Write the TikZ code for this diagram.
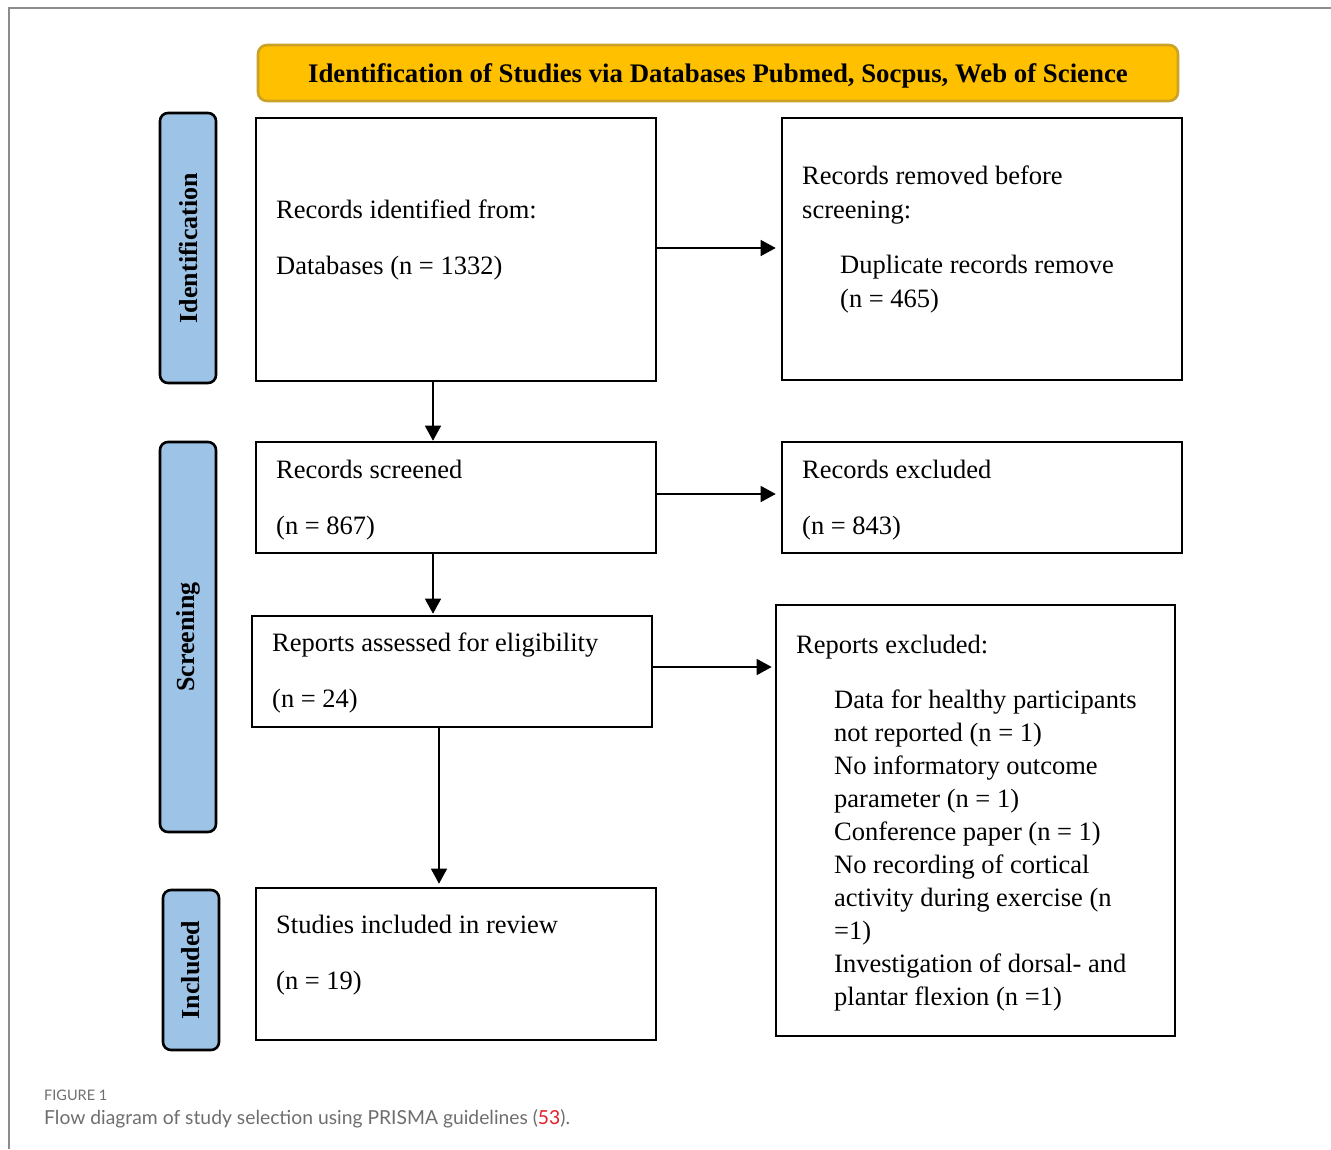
\documentclass[tikz,border=0pt]{standalone}
\usepackage{fontspec}
\setmainfont{Liberation Serif}
\newfontfamily\capfont{Lato}
\usetikzlibrary{arrows.meta}
\definecolor{titlefill}{HTML}{FFC000}
\definecolor{titleedge}{HTML}{C9A227}
\definecolor{sidefill}{HTML}{9DC3E6}
\definecolor{framegray}{HTML}{8C8C8C}
\definecolor{capgray}{HTML}{6E6E6E}
\definecolor{refred}{HTML}{E0202A}
\begin{document}
\begin{tikzpicture}[x=1pt,y=-1pt,
  pbox/.style={draw=black, line width=2.6pt, inner sep=0pt, minimum width=400pt},
  sidebox/.style={draw=black, fill=sidefill, line width=2.6pt, rounded corners=8pt, inner sep=0pt, minimum width=56pt},
  sidetxt/.style={rotate=90, font=\fontsize{26}{30}\selectfont\bfseries},
  txt/.style={anchor=base west, inner sep=0pt, font=\fontsize{26.5}{33}\selectfont},
  flow/.style={line width=1.4pt, -{Triangle[length=15pt,width=16pt]}}
]
\useasboundingbox (0,0) rectangle (1331,1149);
% frame
\draw[framegray, line width=1.2pt] (9,1149) -- (9,8) -- (1331,8);
% title
\node[draw=titleedge, fill=titlefill, line width=2.6pt, rounded corners=9pt, minimum width=920pt, minimum height=56pt, inner sep=0pt] (title) at (718,73) {};
\node[inner sep=0pt, font=\fontsize{26.8}{30}\selectfont\bfseries] (titletxt) at ([yshift=-2.5pt]title.center) {Identification of Studies via Databases Pubmed, Socpus, Web of Science};
% side labels
\node[sidebox, minimum height=270pt] (sideid) at (188,248) {};
\node[sidetxt] (sideidt) at (sideid.center) {Identification};
\node[sidebox, minimum height=390pt] (sidesc) at (188,637) {};
\node[sidetxt] (sidesct) at (sidesc.center) {Screening};
\node[sidebox, minimum height=160pt] (sidein) at (191,970) {};
\node[sidetxt] (sideint) at (sidein.center) {Included};
% boxes
\node[pbox, minimum height=263pt] (b1) at (456,249.5) {};
\node[pbox, minimum height=262pt] (b2) at (982,249) {};
\node[pbox, minimum height=111pt] (b3) at (456,497.5) {};
\node[pbox, minimum height=111pt] (b4) at (982,497.5) {};
\node[pbox, minimum height=111pt] (b5) at (452,671.5) {};
\node[pbox, minimum width=399pt, minimum height=431pt] (b6) at (975.5,820.5) {};
\node[pbox, minimum height=152pt] (b7) at (456,964) {};
% texts
\node[txt] (t1a) at (276,218) {Records identified from:};
\node[txt] (t1b) at (276,274) {Databases (n = 1332)};
\node[txt] (t2a) at (802,184) {Records removed before};
\node[txt] (t2b) at (802,218) {screening:};
\node[txt] (t2c) at (840,273) {Duplicate records remove};
\node[txt] (t2d) at (840,307) {(n = 465)};
\node[txt] (t3a) at (276,478) {Records screened};
\node[txt] (t3b) at (276,534) {(n = 867)};
\node[txt] (t4a) at (802,478) {Records excluded};
\node[txt] (t4b) at (802,534) {(n = 843)};
\node[txt] (t5a) at (272,651) {Reports assessed for eligibility};
\node[txt] (t5b) at (272,707) {(n = 24)};
\node[txt] (t6a) at (796,653) {Reports excluded:};
\node[txt] (t6b) at (834,708) {Data for healthy participants};
\node[txt] (t6c) at (834,741) {not reported (n = 1)};
\node[txt] (t6d) at (834,774) {No informatory outcome};
\node[txt] (t6e) at (834,807) {parameter (n = 1)};
\node[txt] (t6f) at (834,840) {Conference paper (n = 1)};
\node[txt] (t6g) at (834,873) {No recording of cortical};
\node[txt] (t6h) at (834,906) {activity during exercise (n};
\node[txt] (t6i) at (834,939) {=1)};
\node[txt] (t6j) at (834,972) {Investigation of dorsal- and};
\node[txt] (t6k) at (834,1005) {plantar flexion (n =1)};
\node[txt] (t7a) at (276,933) {Studies included in review};
\node[txt] (t7b) at (276,989) {(n = 19)};
% connectors
\draw[flow, shorten >=5pt] (b1.east |- 0,248) -- (b2.west |- 0,248);
\draw[flow] ([xshift=-23pt]b1.south) -- ([xshift=-23pt]b1.south |- b3.north);
\draw[flow, shorten >=5pt] (b3.east |- 0,494) -- (b4.west |- 0,494);
\draw[flow, shorten >=1pt] ([xshift=-23pt]b3.south) -- ([xshift=-23pt]b3.south |- b5.north);
\draw[flow, shorten >=3pt] (b5.east |- 0,667) -- (b6.west |- 0,667);
\draw[flow, shorten >=3pt] ([xshift=-13pt]b5.south) -- ([xshift=-13pt]b5.south |- b7.north);
% caption
\node[anchor=base west, inner sep=0pt, text=capgray, font=\capfont\fontsize{14.5}{16}\selectfont] (cap1) at (44,1100) {FIGURE 1};
\node[anchor=base west, inner sep=0pt, text=capgray, font=\capfont\fontsize{19.3}{22}\selectfont] (cap2) at (44,1124) {Flow diagram of study selection using PRISMA guidelines (\textcolor{refred}{53}).};
\end{tikzpicture}
\end{document}
